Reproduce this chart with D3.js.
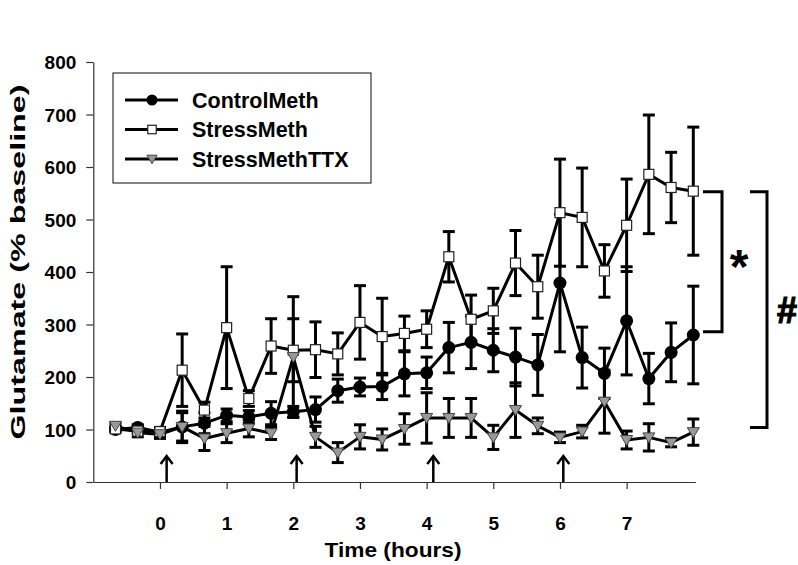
<!DOCTYPE html>
<html><head><meta charset="utf-8">
<script src="https://cdn.jsdelivr.net/npm/d3@7/dist/d3.min.js"></script>
<style>body{margin:0;background:#fff}</style>
</head><body><svg id="c" width="798" height="565"></svg>
<script>
const times = [-0.667,-0.333,0,0.333,0.667,1,1.333,1.667,2,2.333,2.667,3,3.333,3.667,4,4.333,4.667,5,5.333,5.667,6,6.333,6.667,7,7.333,7.667,8];
const controlMeth = [100,104,95,105,112,127,124,131,134,138,174,181,182,206,208,256,266,251,238,223,379,237,207,307,197,247,280];
const controlErr  = [5,5,5,27,20,12,12,22,10,24,22,17,25,42,30,48,50,41,55,58,131,58,48,103,48,56,93];
const stressMeth  = [101,97,96,213,137,294,159,259,251,252,244,304,277,283,291,429,310,326,417,372,513,504,402,489,586,561,554];
const stressErr   = [5,5,8,69,15,116,15,52,60,53,40,70,73,33,35,48,46,43,62,60,102,94,50,88,113,67,122];
const stressTTX   = [107,94,91,105,83,93,102,93,238,86,56,86,81,101,122,122,122,85,137,107,85,96,153,80,85,75,95];
const ttxErr      = [5,8,8,30,23,18,16,12,115,20,19,23,20,29,48,37,37,23,52,15,10,12,60,17,26,8,25];
const seriesNames = ["ControlMeth","StressMeth","StressMethTTX"];
const xTicks = [0,1,2,3,4,5,6,7];
const yTicks = [0,100,200,300,400,500,600,700,800];
const arrowTimes = [0.1,2.05,4.1,6.05];
const bracketStar = [553, 286];
const bracketHash = [553, 104];

const svg = d3.select("#c");
const FONT = "'Liberation Sans', Arial, sans-serif";
const x = d3.scaleLinear().domain([-1, 8.03]).range([93.3, 695.3]);
const y = d3.scaleLinear().domain([0, 800]).range([482, 62]);

// axes
const yAxis = svg.append("g").attr("transform","translate(93.3,0)")
  .call(d3.axisLeft(y).tickValues(yTicks).tickSize(7).tickPadding(10).tickSizeOuter(0));
const xAxis = svg.append("g").attr("transform","translate(0,482)")
  .call(d3.axisBottom(x).tickValues(xTicks).tickSize(7).tickPadding(28).tickSizeOuter(0));
[yAxis,xAxis].forEach(a=>{
  a.selectAll("path,line").attr("stroke","#333").attr("stroke-width",1.2);
  a.selectAll("text").attr("font-family",FONT).attr("font-weight","bold").attr("font-size",19).attr("fill","#000");
});
yAxis.selectAll("text").attr("dy","0.36em");

// axis titles
svg.append("text").attr("transform","translate(25,262) rotate(-90)")
  .attr("text-anchor","middle").attr("font-family",FONT).attr("font-weight","bold")
  .attr("font-size",21).attr("textLength",355).attr("lengthAdjust","spacingAndGlyphs")
  .text("Glutamate (% baseline)");
svg.append("text").attr("x",393).attr("y",557)
  .attr("text-anchor","middle").attr("font-family",FONT).attr("font-weight","bold")
  .attr("font-size",21).attr("textLength",137).attr("lengthAdjust","spacingAndGlyphs")
  .text("Time (hours)");

// arrows
const ag = svg.append("g").attr("stroke","#000").attr("stroke-width",2.5).attr("fill","none");
arrowTimes.forEach(t=>{
  const ax = x(t);
  ag.append("line").attr("x1",ax).attr("x2",ax).attr("y1",456).attr("y2",482);
  ag.append("path").attr("d",`M${ax-6},${464} L${ax},${456} L${ax+6},${464}`);
});

const series = [
  {name:seriesNames[0], v:controlMeth, e:controlErr, type:"circle"},
  {name:seriesNames[1], v:stressMeth, e:stressErr, type:"square"},
  {name:seriesNames[2], v:stressTTX, e:ttxErr, type:"tri"}
];

// error bars
series.forEach(s=>{
  const g = svg.append("g").attr("stroke","#000").attr("stroke-width",3);
  times.forEach((t,i)=>{
    const cx = x(t), hi = y(s.v[i]+s.e[i]), lo = y(s.v[i]-s.e[i]);
    g.append("line").attr("x1",cx).attr("x2",cx).attr("y1",hi).attr("y2",lo);
    g.append("line").attr("x1",cx-6).attr("x2",cx+6).attr("y1",hi).attr("y2",hi);
    g.append("line").attr("x1",cx-6).attr("x2",cx+6).attr("y1",lo).attr("y2",lo);
  });
});
// lines
const line = d3.line().x((d,i)=>x(times[i])).y(d=>y(d));
series.forEach(s=>{
  svg.append("path").attr("d",line(s.v)).attr("fill","none").attr("stroke","#000").attr("stroke-width",3).attr("stroke-linejoin","round");
});
function marker(g, type, cx, cy, scale){
  scale = scale||1;
  if(type==="circle") g.append("circle").attr("cx",cx).attr("cy",cy).attr("r",6.5*scale).attr("fill","#000");
  else if(type==="square") g.append("rect").attr("x",cx-5*scale).attr("y",cy-5*scale).attr("width",10*scale).attr("height",10*scale).attr("fill","#fff").attr("stroke","#222").attr("stroke-width",1.2);
  else g.append("path").attr("d",`M${cx-6*scale},${cy-4.5*scale} L${cx+6*scale},${cy-4.5*scale} L${cx},${cy+5.5*scale} Z`).attr("fill","#999").attr("stroke","#444").attr("stroke-width",1);
}
series.forEach(s=>{
  const g = svg.append("g");
  times.forEach((t,i)=>marker(g, s.type, x(t), y(s.v[i])));
});

// significance brackets
const bg = svg.append("g").attr("stroke","#000").attr("stroke-width",3).attr("fill","none");
bg.append("path").attr("d",`M703,${y(bracketStar[0])} H722 V${y(bracketStar[1])} H703`);
bg.append("path").attr("d",`M750,${y(bracketHash[0])} H767 V${y(bracketHash[1])} H750`);
svg.append("text").attr("x",739).attr("y",283).attr("text-anchor","middle").attr("font-family",FONT)
  .attr("font-weight","bold").attr("font-size",48).text("*");
svg.append("text").attr("x",787).attr("y",323).attr("text-anchor","middle").attr("font-family",FONT)
  .attr("font-weight","bold").attr("font-size",36).attr("stroke","#000").attr("stroke-width",1.2).text("#");

// legend
const lg = svg.append("g");
lg.append("rect").attr("x",113).attr("y",73).attr("width",258).attr("height",110).attr("fill","#fff").attr("stroke","#333").attr("stroke-width",1.2);
series.forEach((s,k)=>{
  const ly = 100 + k*29.5;
  lg.append("line").attr("x1",125).attr("x2",178).attr("y1",ly).attr("y2",ly).attr("stroke","#000").attr("stroke-width",3);
  marker(lg, s.type, 152, ly, 0.85);
  lg.append("text").attr("x",192).attr("y",ly).attr("dy","0.36em").attr("font-family",FONT).attr("font-weight","bold")
    .attr("font-size",21.5).text(s.name);
});
</script></body></html>
